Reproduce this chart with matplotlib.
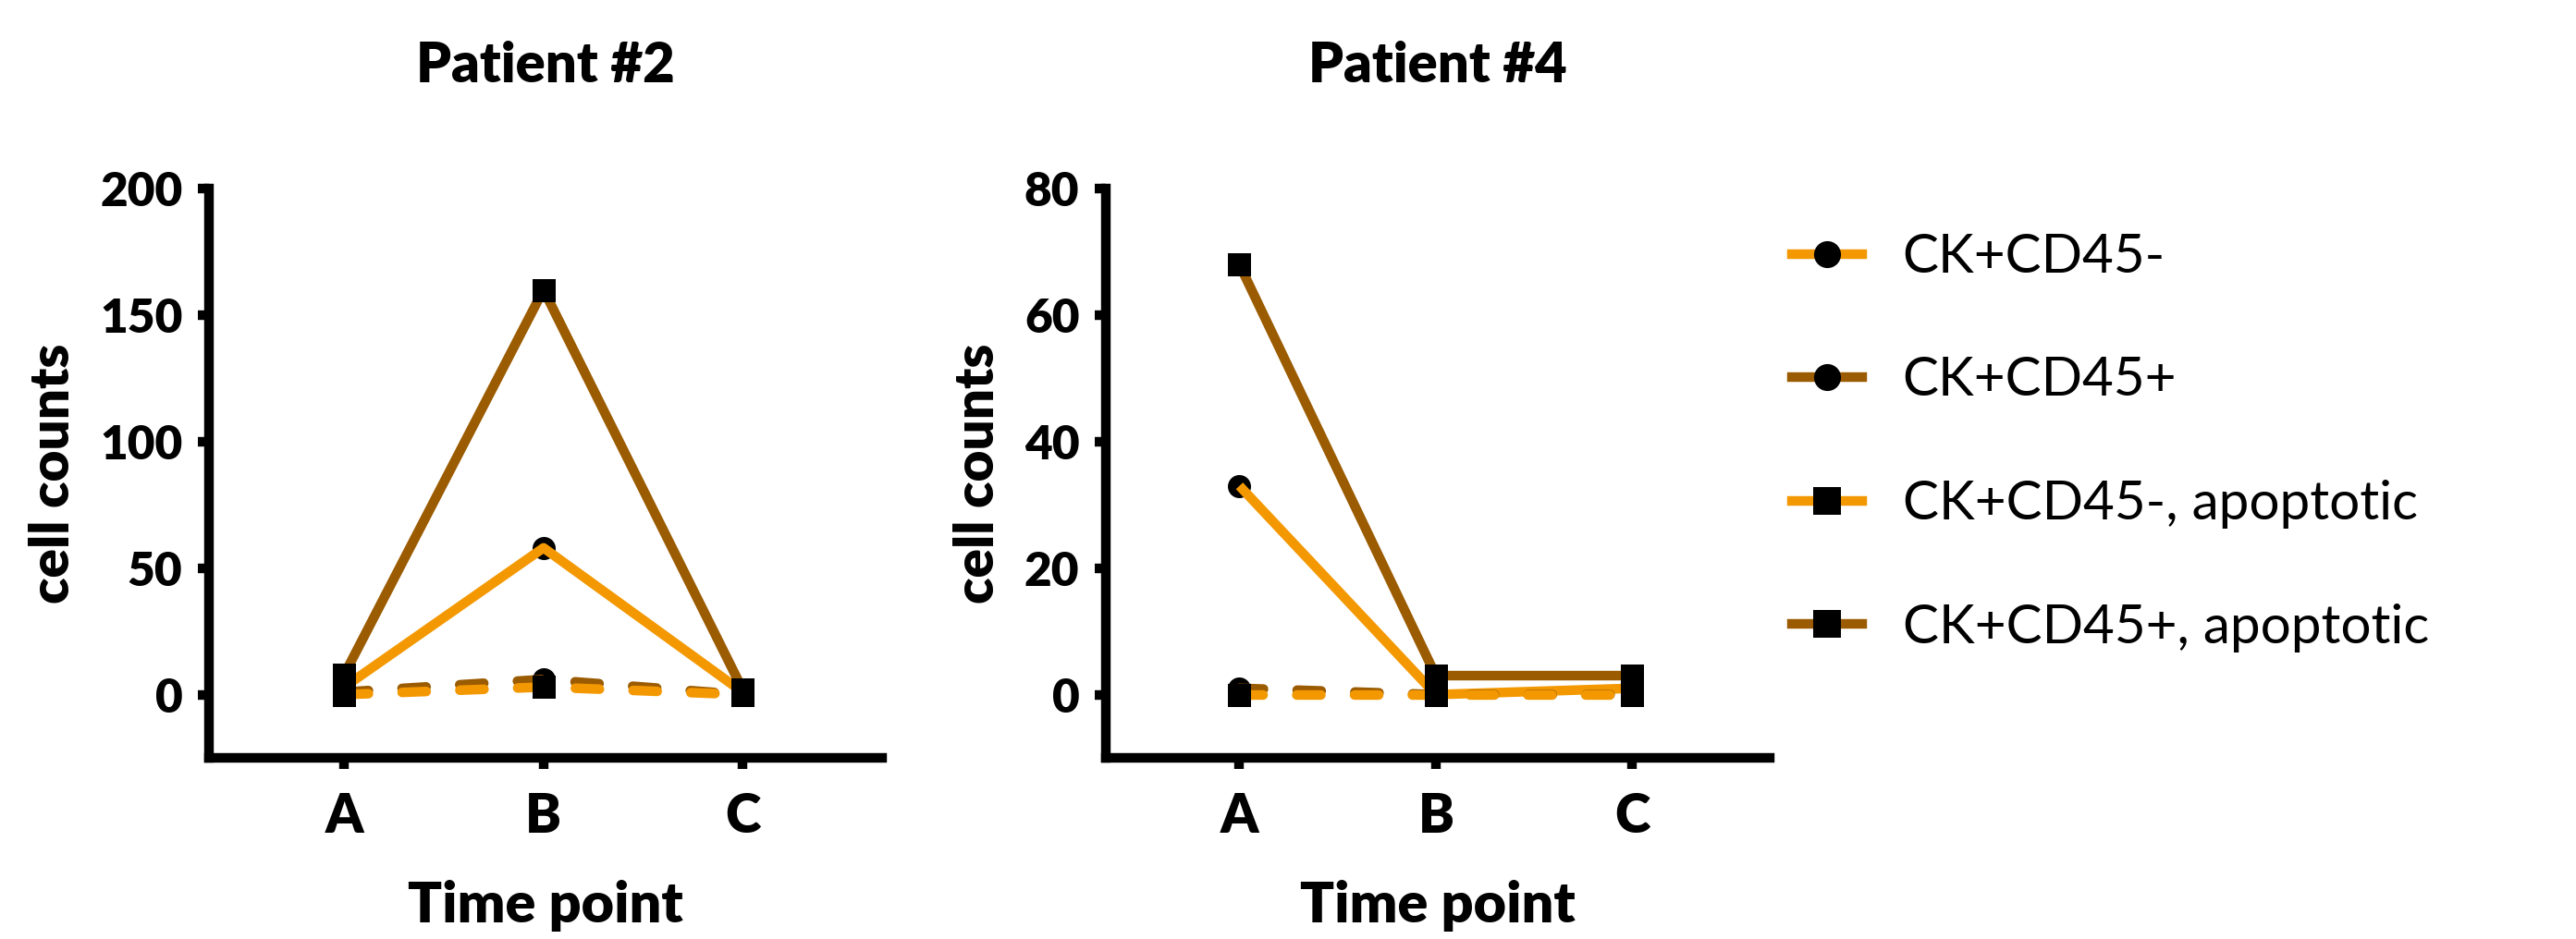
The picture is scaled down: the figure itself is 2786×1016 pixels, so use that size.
import matplotlib
matplotlib.use('Agg')
import matplotlib.pyplot as plt
from matplotlib.lines import Line2D

# ---------------- data ----------------
time_points = ['A', 'B', 'C']
series_names = ['CK+CD45-', 'CK+CD45+', 'CK+CD45-, apoptotic', 'CK+CD45+, apoptotic']

patient2_ck_cd45neg = [3, 58, 1]
patient2_ck_cd45pos = [1, 6, 0]
patient2_ck_cd45neg_apo = [0, 3, 0]
patient2_ck_cd45pos_apo = [8, 160, 2]

patient4_ck_cd45neg = [33, 0, 1]
patient4_ck_cd45pos = [1, 0, 0]
patient4_ck_cd45neg_apo = [0, 0, 0]
patient4_ck_cd45pos_apo = [68, 3, 3]

patient2_yticks = [0, 50, 100, 150, 200]
patient4_yticks = [0, 20, 40, 60, 80]

# ---------------- style ----------------
ORANGE = '#F39800'
BROWN = '#9B5B00'
LW = 7.5
MS = 18
FONT = ['Lato', 'DejaVu Sans']
plt.rcParams['font.family'] = FONT
HEAVY = 'heavy'

styles = [
    dict(color=ORANGE, marker='o', ls='-'),
    dict(color=BROWN, marker='o', ls=(0, (2.5, 3.5))),
    dict(color=ORANGE, marker='s', ls=(0, (2.5, 3.5))),
    dict(color=BROWN, marker='s', ls='-'),
]

fig = plt.figure(figsize=(27.86, 10.16), dpi=100)
W, H = 2786, 1016
ax1 = fig.add_axes([226 / W, 1 - 820 / H, 728 / W, 616 / H])
ax2 = fig.add_axes([1196 / W, 1 - 820 / H, 718 / W, 616 / H])

panels = [
    (ax1, 'Patient #2', [patient2_ck_cd45neg, patient2_ck_cd45pos,
                         patient2_ck_cd45neg_apo, patient2_ck_cd45pos_apo],
     (-25, 200), patient2_yticks),
    (ax2, 'Patient #4', [patient4_ck_cd45neg, patient4_ck_cd45pos,
                         patient4_ck_cd45neg_apo, patient4_ck_cd45pos_apo],
     (-10, 80), patient4_yticks),
]

x = list(range(len(time_points)))
for ax, title, data, ylim, yticks in panels:
    for vals, st in zip(data, styles):
        ax.plot(x, vals, color=st['color'], lw=LW, ls=st['ls'],
                dash_capstyle='round', solid_capstyle='butt', zorder=3)
        ax.plot(x, vals, ls='none', marker=st['marker'], ms=MS,
                mfc='black', mec='black', mew=0,
                zorder=2 if st['marker'] == 'o' else 4, clip_on=False)
    ax.set_xlim(-0.68, 2.70)
    ax.set_ylim(*ylim)
    ax.set_xticks(x)
    ax.set_xticklabels(time_points)
    ax.set_yticks(yticks)
    for s in ['top', 'right']:
        ax.spines[s].set_visible(False)
    for s in ['left', 'bottom']:
        ax.spines[s].set_linewidth(7.5)
        ax.spines[s].set_capstyle('projecting')
    ax.tick_params(axis='both', length=8.6, width=7.5, direction='out')
    ax.tick_params(axis='x', pad=18, labelsize=42)
    ax.tick_params(axis='y', pad=12, labelsize=37)
    for lab in ax.get_xticklabels() + ax.get_yticklabels():
        lab.set_fontweight(HEAVY)
    ax.set_title(title, fontsize=43, fontweight=HEAVY, pad=83)
    ax.set_xlabel('Time point', fontsize=44, fontweight=HEAVY, labelpad=30)
    ax.set_ylabel('cell counts', fontsize=42, fontweight=HEAVY, labelpad=17)

handles = [Line2D([0], [0], color=st['color'], lw=LW, ls='-',
                  marker=st['marker'], ms=21, mfc='black', mec='black', mew=0)
           for st in styles]
fig.legend(handles, series_names, loc='upper left',
           bbox_to_anchor=(1938 / W, 1 - 252 / H), frameon=False,
           fontsize=42, handlelength=1.3, handletextpad=0.75,
           labelspacing=1.38, borderpad=0, borderaxespad=0)

fig.savefig('out.png', dpi=100)
